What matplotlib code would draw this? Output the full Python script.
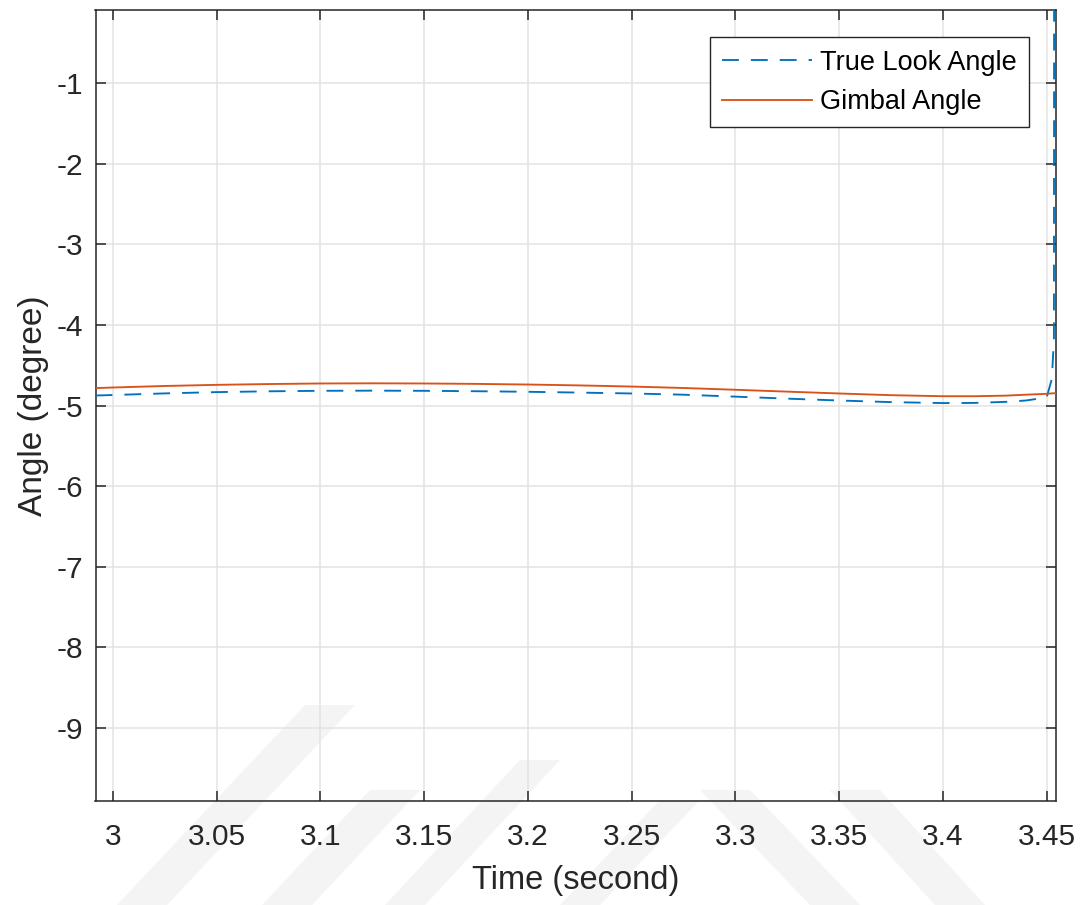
import numpy as np
import matplotlib.pyplot as plt
from matplotlib.patches import Polygon

plt.rcParams['font.family'] = ['Liberation Sans', 'DejaVu Sans']
plt.rcParams['axes.unicode_minus'] = False

# data
t_look = [2.9916, 3.0, 3.025, 3.05, 3.075, 3.1, 3.125, 3.15, 3.175, 3.2, 3.225,
          3.25, 3.275, 3.3, 3.325, 3.35, 3.375, 3.4, 3.415, 3.43, 3.44, 3.45,
          3.4525, 3.4535, 3.4540]
true_look = [-4.876, -4.870, -4.850, -4.834, -4.824, -4.818, -4.816, -4.818, -4.823,
             -4.830, -4.840, -4.851, -4.866, -4.890, -4.915, -4.938, -4.958, -4.970,
             -4.968, -4.955, -4.938, -4.900, -4.670, -4.180, 20.0]

t_gimbal = [2.9916, 3.0, 3.025, 3.05, 3.075, 3.1, 3.125, 3.15, 3.175, 3.2, 3.225,
            3.25, 3.275, 3.3, 3.325, 3.35, 3.375, 3.4, 3.415, 3.43, 3.44, 3.45, 3.4545]
gimbal = [-4.784, -4.777, -4.758, -4.744, -4.734, -4.727, -4.725, -4.727, -4.732,
          -4.740, -4.751, -4.765, -4.783, -4.805, -4.828, -4.851, -4.872, -4.885,
          -4.885, -4.878, -4.866, -4.855, -4.846]

xticks = [3, 3.05, 3.1, 3.15, 3.2, 3.25, 3.3, 3.35, 3.4, 3.45]
xticklabels = ['3', '3.05', '3.1', '3.15', '3.2', '3.25', '3.3', '3.35', '3.4', '3.45']
yticks = [-9, -8, -7, -6, -5, -4, -3, -2, -1]

W, H = 1083, 905
fig = plt.figure(figsize=(W / 100, H / 100), dpi=100)
fig.patch.set_facecolor('white')

# faint watermark stripes (pixel coords, y from top)
stripes = [
    [(117, 905), (167, 905), (355, 705), (305, 705)],
    [(262, 905), (312, 905), (420, 790), (370, 790)],
    [(385, 905), (425, 905), (560, 760), (520, 760)],
    [(560, 905), (600, 905), (700, 800), (660, 800)],
    [(700, 790), (750, 790), (860, 905), (810, 905)],
    [(830, 790), (880, 790), (985, 905), (935, 905)],
]
for s in stripes:
    pts = [(x / W, 1 - y / H) for x, y in s]
    fig.patches.append(Polygon(pts, closed=True, transform=fig.transFigure,
                               facecolor='#f4f4f4', edgecolor='none', zorder=-5))

ax = fig.add_axes([95.5 / W, 1 - 800.7 / H, (1056 - 95.5) / W, (800.7 - 10.3) / H])
ax.set_facecolor('none')

blue = '#0072BD'
orange = '#D95319'
ax.plot(t_look, true_look, color=blue, lw=1.35, linestyle=(0, (9.0, 6.4)),
        label='True Look Angle', zorder=3)
ax.plot(t_gimbal, gimbal, color=orange, lw=1.35, label='Gimbal Angle', zorder=3)

ax.set_xlim(2.9916, 3.4545)
ax.set_ylim(-9.9, -0.1)
ax.set_xticks(xticks)
ax.set_xticklabels(xticklabels)
ax.set_yticks(yticks)

ax.grid(True, color='#e3e3e3', lw=1.1)
ax.set_axisbelow(True)
for sp in ax.spines.values():
    sp.set_color('#262626')
    sp.set_linewidth(1.1)
ax.tick_params(direction='in', length=7.5, width=1.1, color='#262626',
               labelcolor='#262626', labelsize=21.5, top=True, right=True)
ax.tick_params(axis='x', pad=16)
ax.tick_params(axis='y', pad=9)

ax.set_xlabel('Time (second)', fontsize=23.5, color='#262626', labelpad=10)
ax.set_ylabel('Angle (degree)', fontsize=24, color='#262626', labelpad=5)

leg = ax.legend(loc='upper right', fontsize=19.5, handlelength=3.3, handletextpad=0.3,
                labelspacing=0.5, borderpad=0.45, borderaxespad=1.0,
                fancybox=False, framealpha=1, edgecolor='#262626')
leg.get_frame().set_linewidth(1.0)
for txt in leg.get_texts():
    txt.set_color('black')

fig.savefig('out.png', dpi=100)
